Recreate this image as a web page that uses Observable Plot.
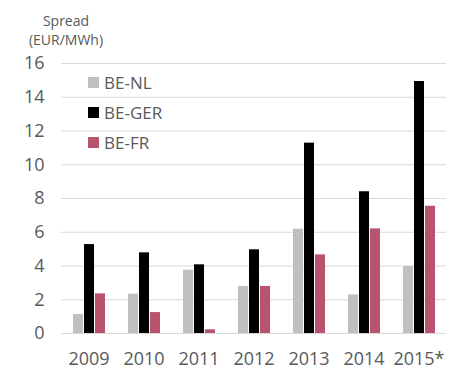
<!DOCTYPE html>
<html>
<head>
<meta charset="utf-8">
<script src="https://cdn.jsdelivr.net/npm/d3@7"></script>
<script src="https://cdn.jsdelivr.net/npm/@observablehq/plot@0.6"></script>
<style>
  html, body { margin: 0; padding: 0; background: #fff; }
  #wrap { position: relative; width: 463px; height: 390px; font-family: "Open Sans", "Liberation Sans", sans-serif; color: #595959; }
  #title { position: absolute; left: 16px; top: 11px; width: 100px; text-align: center; font-size: 14px; line-height: 19px; color: #595959; }
  #legend { position: absolute; left: 88px; top: 67px; }
  .item { display: flex; align-items: center; height: 30px; font-size: 17px; color: #595959; }
  .sw { width: 11px; height: 11px; margin-right: 5px; }
</style>
</head>
<body>
<div id="wrap">
  <div id="chart"></div>
  <div id="title">Spread<br>(EUR/MWh)</div>
  <div id="legend"></div>
</div>
<script>
const years = ["2009", "2010", "2011", "2012", "2013", "2014", "2015*"];
const series = ["BE-NL", "BE-GER", "BE-FR"];
const colors = ["#bfbfbf", "#000000", "#b9546e"];
const beNL  = [1.13, 2.33, 3.75, 2.79, 6.18, 2.29, 3.97];
const beGER = [5.27, 4.78, 4.07, 4.96, 11.28, 8.4, 14.93];
const beFR  = [2.35, 1.24, 0.22, 2.79, 4.66, 6.2, 7.54];
const yTicks = [0, 2, 4, 6, 8, 10, 12, 14, 16];

const valuesBySeries = [beNL, beGER, beFR];
const data = [];
years.forEach((yr, i) => {
  series.forEach((s, j) => data.push({year: yr, series: s, value: valuesBySeries[j][i]}));
});

const plot = Plot.plot({
  width: 463,
  height: 390,
  marginTop: 63,
  marginBottom: 57,
  marginLeft: 58,
  marginRight: 15,
  style: {fontFamily: "'Open Sans', 'Liberation Sans', sans-serif", fontSize: "18px", color: "#595959", background: "#fff"},
  fx: {domain: years, padding: 0, label: null, axis: "bottom", tickSize: 0, tickPadding: 19},
  x: {domain: series, paddingInner: 0.1, paddingOuter: 0.87, axis: null},
  y: {domain: [0, 16], ticks: yTicks, axis: "left", tickSize: 0, tickPadding: 17, label: null},
  color: {domain: series, range: colors},
  marks: [
    Plot.gridY(yTicks.filter(d => d > 0), {stroke: "#d9d9d9", strokeOpacity: 1, strokeWidth: 1}),
    Plot.barY(data, {fx: "year", x: "series", y: "value", fill: "series"}),
    Plot.ruleY([0], {stroke: "#d9d9d9", strokeWidth: 1.2})
  ]
});
document.getElementById("chart").appendChild(plot);

const legend = d3.select("#legend");
series.forEach((s, j) => {
  const it = legend.append("div").attr("class", "item");
  it.append("div").attr("class", "sw").style("background", colors[j]);
  it.append("span").text(s);
});
</script>
</body>
</html>
